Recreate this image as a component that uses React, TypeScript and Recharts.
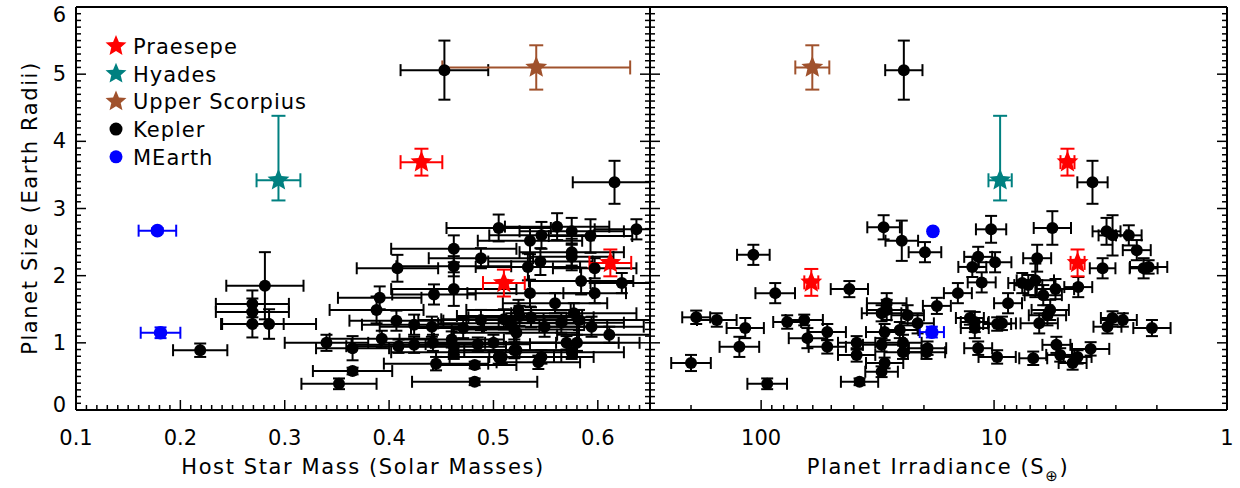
import { ScatterChart, Scatter, XAxis, YAxis, ErrorBar } from 'recharts'

const FONT = '"DejaVu Sans", sans-serif'

// Kepler planets, left panel: [host mass, radius, mass err, radius err]
const keplerMass: number[][] = [
  [0.453, 5.06, 0.042, 0.44], [0.616, 3.39, 0.04, 0.32], [0.219, 0.89, 0.026, 0.1],
  [0.281, 1.85, 0.037, 0.5], [0.269, 1.58, 0.035, 0.2], [0.269, 1.46, 0.035, 0.2],
  [0.269, 1.28, 0.03, 0.2], [0.285, 1.28, 0.045, 0.22], [0.34, 1.0, 0.04, 0.12],
  [0.365, 0.92, 0.035, 0.18], [0.365, 0.58, 0.038, 0.05], [0.352, 0.39, 0.036, 0.08],
  [0.391, 1.67, 0.04, 0.17], [0.388, 1.49, 0.045, 0.2], [0.408, 2.11, 0.039, 0.2],
  [0.407, 1.33, 0.045, 0.15], [0.393, 1.06, 0.05, 0.12], [0.409, 0.95, 0.05, 0.1],
  [0.505, 2.71, 0.05, 0.2], [0.462, 2.4, 0.06, 0.2], [0.488, 2.26, 0.05, 0.15],
  [0.462, 2.14, 0.055, 0.15], [0.462, 1.8, 0.06, 0.25], [0.443, 1.72, 0.04, 0.15],
  [0.424, 1.27, 0.05, 0.15], [0.441, 1.24, 0.05, 0.15], [0.471, 1.22, 0.05, 0.15],
  [0.488, 1.34, 0.06, 0.15], [0.424, 0.97, 0.06, 0.12], [0.442, 1.0, 0.05, 0.12],
  [0.462, 0.94, 0.05, 0.12], [0.462, 0.86, 0.06, 0.1], [0.482, 0.67, 0.04, 0.05],
  [0.445, 0.69, 0.05, 0.1], [0.482, 0.42, 0.06, 0.05], [0.505, 0.79, 0.06, 0.1],
  [0.52, 0.89, 0.06, 0.12], [0.52, 1.2, 0.06, 0.15], [0.525, 1.4, 0.06, 0.15],
  [0.561, 2.73, 0.05, 0.2], [0.575, 2.66, 0.05, 0.2], [0.546, 2.6, 0.05, 0.2],
  [0.593, 2.59, 0.04, 0.25], [0.637, 2.69, 0.04, 0.15], [0.535, 2.52, 0.05, 0.2],
  [0.575, 2.35, 0.05, 0.2], [0.575, 2.28, 0.04, 0.2], [0.545, 2.21, 0.05, 0.2],
  [0.533, 2.13, 0.05, 0.2], [0.597, 2.11, 0.04, 0.15], [0.584, 1.92, 0.05, 0.2],
  [0.623, 1.89, 0.03, 0.15], [0.597, 1.74, 0.03, 0.15], [0.535, 1.74, 0.06, 0.2],
  [0.559, 1.59, 0.05, 0.15], [0.524, 1.49, 0.05, 0.15], [0.577, 1.44, 0.06, 0.15],
  [0.536, 1.38, 0.06, 0.15], [0.582, 1.34, 0.07, 0.15], [0.517, 1.29, 0.07, 0.15],
  [0.549, 1.24, 0.06, 0.15], [0.594, 1.24, 0.05, 0.15], [0.522, 1.15, 0.06, 0.15],
  [0.611, 1.12, 0.05, 0.12], [0.58, 1.0, 0.06, 0.12], [0.522, 0.89, 0.05, 0.1],
  [0.546, 0.79, 0.05, 0.1], [0.575, 0.86, 0.05, 0.1], [0.543, 0.71, 0.04, 0.1],
  [0.508, 0.79, 0.05, 0.1], [0.5, 1.0, 0.06, 0.12], [0.485, 0.98, 0.05, 0.1],
  [0.51, 1.35, 0.06, 0.15], [0.46, 1.05, 0.05, 0.12], [0.565, 1.3, 0.06, 0.15],
  [0.57, 1.0, 0.05, 0.1],
]

// Kepler planets, right panel: [irradiance, radius, log10 irradiance err, radius err]
const keplerIrr: number[][] = [
  [24.4, 5.06, 0.08, 0.44], [3.78, 3.39, 0.065, 0.32], [29.8, 2.72, 0.07, 0.18],
  [24.9, 2.52, 0.07, 0.3], [19.8, 2.35, 0.07, 0.15], [10.3, 2.69, 0.065, 0.2],
  [5.62, 2.71, 0.08, 0.25], [3.29, 2.66, 0.06, 0.2], [3.1, 2.6, 0.06, 0.3],
  [2.64, 2.6, 0.055, 0.15], [2.44, 2.38, 0.06, 0.15], [2.28, 2.11, 0.06, 0.15],
  [2.17, 2.13, 0.08, 0.1], [3.42, 2.11, 0.055, 0.15], [4.35, 1.83, 0.06, 0.15],
  [5.45, 1.8, 0.08, 0.15], [6.15, 1.71, 0.08, 0.15], [6.65, 1.93, 0.08, 0.25],
  [6.53, 2.26, 0.06, 0.2], [7.57, 1.89, 0.06, 0.15], [7.13, 1.86, 0.06, 0.15],
  [9.9, 2.2, 0.07, 0.15], [11.7, 2.28, 0.06, 0.15], [12.4, 2.13, 0.06, 0.15],
  [11.3, 1.9, 0.06, 0.15], [14.3, 1.74, 0.06, 0.15], [17.6, 1.55, 0.06, 0.12],
  [8.71, 1.59, 0.06, 0.15], [5.74, 1.49, 0.08, 0.15], [5.9, 1.41, 0.08, 0.15],
  [6.4, 1.29, 0.08, 0.15], [9.25, 1.29, 0.06, 0.1], [9.7, 1.28, 0.06, 0.1],
  [12.1, 1.31, 0.06, 0.15], [12.7, 1.37, 0.06, 0.1], [12.1, 1.22, 0.06, 0.15],
  [11.7, 0.92, 0.06, 0.1], [9.7, 0.79, 0.08, 0.1], [6.79, 0.77, 0.06, 0.1],
  [5.4, 0.97, 0.06, 0.12], [5.2, 0.82, 0.06, 0.1], [4.6, 0.7, 0.06, 0.1],
  [4.38, 0.79, 0.06, 0.1], [3.85, 0.91, 0.08, 0.1], [3.26, 1.24, 0.06, 0.1],
  [3.1, 1.37, 0.05, 0.1], [2.8, 1.34, 0.06, 0.1], [2.1, 1.22, 0.08, 0.12],
  [21.3, 1.29, 0.07, 0.15], [23.5, 1.41, 0.07, 0.15], [28.9, 1.59, 0.085, 0.15],
  [28.9, 1.49, 0.085, 0.15], [30.4, 1.44, 0.085, 0.12], [25.4, 1.19, 0.08, 0.12],
  [29.5, 1.16, 0.08, 0.12], [24.6, 1.0, 0.08, 0.12], [24.6, 0.86, 0.08, 0.1],
  [19.3, 0.92, 0.08, 0.1], [19.5, 0.86, 0.08, 0.1], [30.4, 0.97, 0.08, 0.1],
  [29.5, 0.7, 0.08, 0.08], [30.4, 0.57, 0.07, 0.08], [37.8, 0.42, 0.08, 0.05],
  [38.9, 1.0, 0.08, 0.1], [38.9, 0.82, 0.08, 0.1], [52, 1.16, 0.08, 0.12],
  [52, 0.94, 0.08, 0.1], [41.8, 1.8, 0.08, 0.12], [108, 2.31, 0.07, 0.15],
  [87, 1.74, 0.085, 0.15], [190, 1.38, 0.06, 0.1], [155, 1.34, 0.085, 0.1],
  [117, 1.22, 0.08, 0.15], [124, 0.94, 0.085, 0.15], [200, 0.7, 0.085, 0.12],
  [94.2, 0.39, 0.085, 0.08], [77.3, 1.31, 0.06, 0.1], [65.3, 1.34, 0.08, 0.08],
  [63.3, 1.07, 0.08, 0.15],
]

// cluster planets: [x, radius, x err, radius err low, radius err high]
const praesepeMass = [[0.431, 3.69, 0.02, 0.2, 0.2], [0.51, 1.89, 0.02, 0.2, 0.2], [0.612, 2.19, 0.02, 0.2, 0.2]]
const praesepeIrr = [[4.84, 3.69, 0.03, 0.2, 0.2], [60.9, 1.9, 0.03, 0.2, 0.2], [4.38, 2.19, 0.03, 0.2, 0.2]]
const hyadesMass = [[0.294, 3.42, 0.021, 0.3, 0.96]]
const hyadesIrr = [[9.42, 3.42, 0.05, 0.3, 0.96]]
const upperScoMass = [[0.541, 5.1, 0.09, 0.33, 0.33]]
const upperScoIrr = [[60.3, 5.1, 0.073, 0.33, 0.33]]
const mearthMass = [[0.178, 2.67, 0.018, 0.04, 0.04], [0.181, 1.15, 0.019, 0.08, 0.08]]
const mearthIrr = [[18.3, 2.66, 0.01, 0.04, 0.04], [18.5, 1.16, 0.052, 0.08, 0.08]]

const massMajor = [0.1, 0.2, 0.3, 0.4, 0.5, 0.6]
const massTicks: number[] = []
for (let i = 10; i <= 65; i++) massTicks.push(i / 100)
const radiusMajor = [0, 1, 2, 3, 4, 5, 6]
const radiusTicks: number[] = []
for (let i = 0; i <= 60; i++) radiusTicks.push(i / 10)
const irrMajor = [1, 10, 100]
const irrTicks = [1, 2, 3, 4, 5, 6, 7, 8, 9, 10, 20, 30, 40, 50, 60, 70, 80, 90, 100, 200, 300]

const near = (list: number[]) => (v: number) => list.some((m) => Math.abs(m - v) < 1e-6)

const linRows = (rows: number[][]) =>
  rows.map(([x, y, ex, lo, hi]) => ({ x, y, ex, ey: [lo, hi ?? lo] }))
const logRows = (rows: number[][]) =>
  rows.map(([x, y, d, lo, hi]) => ({
    x,
    y,
    ex: [x - x / Math.pow(10, d), x * Math.pow(10, d) - x],
    ey: [lo, hi ?? lo],
  }))

type Side = 'bottom' | 'top' | 'left' | 'right'

const TEXT_STYLE = { fontSize: 21, fontFamily: FONT, fill: '#000' }

const makeTick =
  (side: Side, isMajor: (v: number) => boolean, fmt?: (v: number) => string) =>
  (props: any) => {
    const { x, y, payload } = props
    const v = payload.value as number
    const major = isMajor(v)
    const len = major ? 10 : 5
    const end =
      side === 'bottom' ? [x, y - len] : side === 'top' ? [x, y + len] : side === 'left' ? [x + len, y] : [x - len, y]
    let label = null
    if (fmt && major) {
      label =
        side === 'bottom' ? (
          <text x={x} y={y + 35} textAnchor="middle" {...TEXT_STYLE}>
            {fmt(v)}
          </text>
        ) : (
          <text x={x - 10} y={Math.min(Math.max(y + 7, 22), 412)} textAnchor="end" {...TEXT_STYLE}>
            {fmt(v)}
          </text>
        )
    }
    return (
      <g>
        <line x1={x} y1={y} x2={end[0]} y2={end[1]} stroke="#000" strokeWidth={1.5} />
        {label}
      </g>
    )
  }

const starPath = (cx: number, cy: number, R: number) => {
  const r = R * 0.45
  let d = ''
  for (let i = 0; i < 10; i++) {
    const a = -Math.PI / 2 + (i * Math.PI) / 5
    const rad = i % 2 === 0 ? R : r
    d += (i === 0 ? 'M' : 'L') + (cx + rad * Math.cos(a)).toFixed(2) + ',' + (cy + rad * Math.sin(a)).toFixed(2)
  }
  return d + 'Z'
}

const dotShape = (r: number, fill: string) => (p: any) => <circle cx={p.cx} cy={p.cy} r={r} fill={fill} />
const starShape = (R: number, fill: string) => (p: any) => <path d={starPath(p.cx, p.cy, R)} fill={fill} />

const RED = '#ff0000'
const TEAL = '#008080'
const BROWN = '#a0522d'
const BLUE = '#0000ff'

const series = (key: string, data: any[], color: string, shape: any, cap: number) => (
  <Scatter key={key} data={data} xAxisId="b" yAxisId="l" shape={shape} isAnimationActive={false}>
    <ErrorBar dataKey="ex" direction="x" width={cap} stroke={color} strokeWidth={2} isAnimationActive={false} />
    <ErrorBar dataKey="ey" direction="y" width={cap} stroke={color} strokeWidth={2} isAnimationActive={false} />
  </Scatter>
)

const axisLine = { stroke: '#000', strokeWidth: 2 }

function Panel({ groups, xDomain, xTicks, xMajor, xFmt, log, width, margin, yLabelWidth, showYLabels }: any) {
  const yMajor = near(radiusMajor)
  return (
    <ScatterChart width={width} height={488} margin={margin}>
      <XAxis
        xAxisId="b"
        dataKey="x"
        type="number"
        scale={log ? 'log' : 'linear'}
        reversed={log}
        domain={xDomain}
        allowDataOverflow
        ticks={xTicks}
        interval={0}
        height={1}
        tickSize={0}
        tickMargin={0}
        tickLine={false}
        axisLine={axisLine}
        tick={makeTick('bottom', xMajor, xFmt)}
      />
      <XAxis
        xAxisId="t"
        orientation="top"
        type="number"
        scale={log ? 'log' : 'linear'}
        reversed={log}
        domain={xDomain}
        allowDataOverflow
        ticks={xTicks}
        interval={0}
        height={1}
        tickSize={0}
        tickMargin={0}
        tickLine={false}
        axisLine={axisLine}
        tick={makeTick('top', xMajor)}
      />
      <YAxis
        yAxisId="l"
        dataKey="y"
        type="number"
        domain={[0, 6]}
        allowDataOverflow
        ticks={radiusTicks}
        interval={0}
        width={yLabelWidth}
        tickSize={0}
        tickMargin={0}
        tickLine={false}
        axisLine={axisLine}
        tick={makeTick('left', yMajor, showYLabels ? (v: number) => String(Math.round(v)) : undefined)}
      />
      <YAxis
        yAxisId="r"
        orientation="right"
        type="number"
        domain={[0, 6]}
        allowDataOverflow
        ticks={radiusTicks}
        interval={0}
        width={1}
        tickSize={0}
        tickMargin={0}
        tickLine={false}
        axisLine={axisLine}
        tick={makeTick('right', yMajor)}
      />
      {groups}
    </ScatterChart>
  )
}

const legendItems = [
  { name: 'Praesepe', color: RED, star: true },
  { name: 'Hyades', color: TEAL, star: true },
  { name: 'Upper Scorpius', color: BROWN, star: true },
  { name: 'Kepler', color: '#000', star: false },
  { name: 'MEarth', color: BLUE, star: false },
]

export default function App() {
  const leftGroups = [
    series('k', linRows(keplerMass), '#000', dotShape(6, '#000'), 6),
    series('p', linRows(praesepeMass), RED, starShape(11.5, RED), 7),
    series('h', linRows(hyadesMass), TEAL, starShape(11.5, TEAL), 7),
    series('u', linRows(upperScoMass), BROWN, starShape(11.5, BROWN), 7),
    series('m', linRows(mearthMass), BLUE, dotShape(6.8, BLUE), 6),
  ]
  const rightGroups = [
    series('k', logRows(keplerIrr), '#000', dotShape(6, '#000'), 6),
    series('p', logRows(praesepeIrr), RED, starShape(11.5, RED), 7),
    series('h', logRows(hyadesIrr), TEAL, starShape(11.5, TEAL), 7),
    series('u', logRows(upperScoIrr), BROWN, starShape(11.5, BROWN), 7),
    series('m', logRows(mearthIrr), BLUE, dotShape(6.8, BLUE), 6),
  ]
  return (
    <div style={{ position: 'absolute', left: 0, top: 0, width: 1240, height: 488, background: '#fff' }}>
      <div style={{ position: 'absolute', left: 0, top: 0 }}>
        <Panel
          groups={leftGroups}
          xDomain={[0.1, 0.65]}
          xTicks={massTicks}
          xMajor={near(massMajor)}
          xFmt={(v: number) => v.toFixed(1)}
          log={false}
          width={651}
          margin={{ top: 6, right: 0, bottom: 77, left: 0 }}
          yLabelWidth={76}
          showYLabels
        />
      </div>
      <div style={{ position: 'absolute', left: 649, top: 0 }}>
        <Panel
          groups={rightGroups}
          xDomain={[1, 300]}
          xTicks={irrTicks}
          xMajor={near(irrMajor)}
          xFmt={(v: number) => String(v)}
          log
          width={591}
          margin={{ top: 6, right: 12, bottom: 77, left: 0 }}
          yLabelWidth={1}
          showYLabels={false}
        />
      </div>
      <svg
        width={1240}
        height={488}
        style={{ position: 'absolute', left: 0, top: 0, pointerEvents: 'none' }}
        fontFamily={FONT}
        fontSize={21}
      >
        {legendItems.map((it, i) => {
          const cy = 46 + i * 27.7
          return (
            <g key={it.name}>
              {it.star ? (
                <path d={starPath(116, cy, 11)} fill={it.color} />
              ) : (
                <circle cx={116} cy={cy} r={6.5} fill={it.color} />
              )}
              <text x={133} y={cy + 8} fill="#000" letterSpacing={1}>
                {it.name}
              </text>
            </g>
          )
        })}
        <text x={363} y={474} textAnchor="middle" letterSpacing={1.6}>
          Host Star Mass (Solar Masses)
        </text>
        <text x={938} y={474} textAnchor="middle" letterSpacing={1.6}>
          Planet Irradiance (S
          <tspan dy={7} fontSize={15}>
            ⊕
          </tspan>
          <tspan dy={-7}>)</tspan>
        </text>
        <text x={37} y={208} textAnchor="middle" letterSpacing={1.6} transform="rotate(-90, 37, 208)">
          Planet Size (Earth Radii)
        </text>
      </svg>
    </div>
  )
}
